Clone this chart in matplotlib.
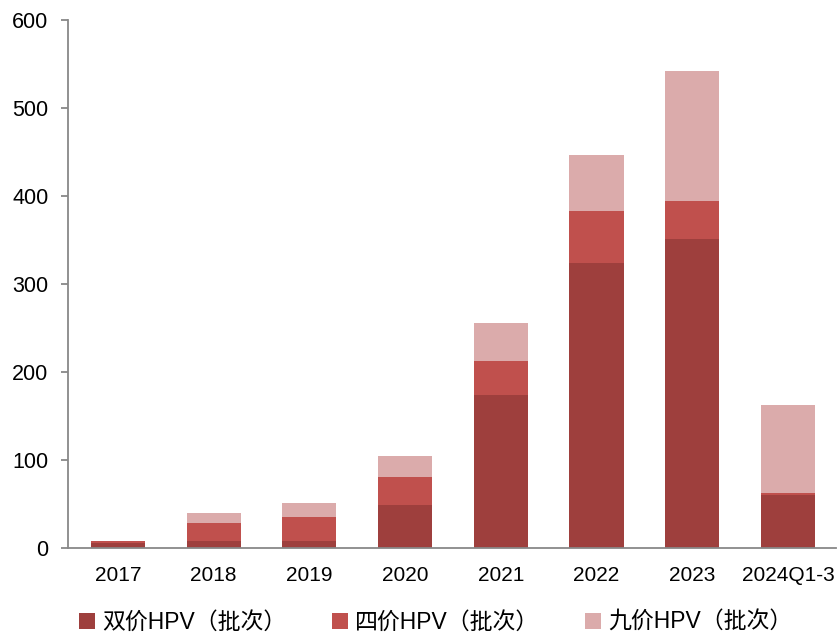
import numpy as np
import matplotlib
matplotlib.use("Agg")
from matplotlib import pyplot as plt

plt.rcParams['font.family'] = ['Liberation Sans', 'Noto Sans CJK SC', 'DejaVu Sans']

years = ["2017", "2018", "2019", "2020", "2021", "2022", "2023", "2024Q1-3"]
bivalent = [5, 8, 8, 49, 174, 324, 351, 60]
quadrivalent = [3, 20, 27, 32, 39, 59, 43, 2]
nonavalent = [0, 12, 16, 23, 43, 64, 148, 100]
names = ["双价HPV（批次）", "四价HPV（批次）", "九价HPV（批次）"]
colors = ["#9E3F3D", "#C0504D", "#DBABAB"]

fig = plt.figure(figsize=(8.4, 6.34), dpi=100)
ax = fig.add_axes([0.081, 0.136, 0.914, 0.832])

x = np.arange(len(years))
b1 = np.array(bivalent)
b2 = np.array(quadrivalent)
b3 = np.array(nonavalent)
w = 0.565
ax.bar(x, b1, w, color=colors[0], label=names[0])
ax.bar(x, b2, w, bottom=b1, color=colors[1], label=names[1])
ax.bar(x, b3, w, bottom=b1 + b2, color=colors[2], label=names[2])

ax.set_xlim(-0.52, 7.5)
ax.set_ylim(0, 600)
ax.set_yticks(range(0, 601, 100))
ax.set_xticks(x)
ax.set_xticklabels(years)
for s in ["top", "right"]:
    ax.spines[s].set_visible(False)
for s in ["left", "bottom"]:
    ax.spines[s].set_color("#888888")
    ax.spines[s].set_linewidth(1.3)
ax.tick_params(axis="y", color="#888888", length=5, width=1.3, labelsize=15.5, pad=9)
ax.tick_params(axis="x", length=0, labelsize=15, pad=13)

fig.legend(loc="center left", bbox_to_anchor=(0.07, 0.018), ncol=3, frameon=False,
           fontsize=16.5, handlelength=0.7, handleheight=0.7, handletextpad=0.3,
           columnspacing=2.0)

fig.savefig("out.png", dpi=100, facecolor="white")
